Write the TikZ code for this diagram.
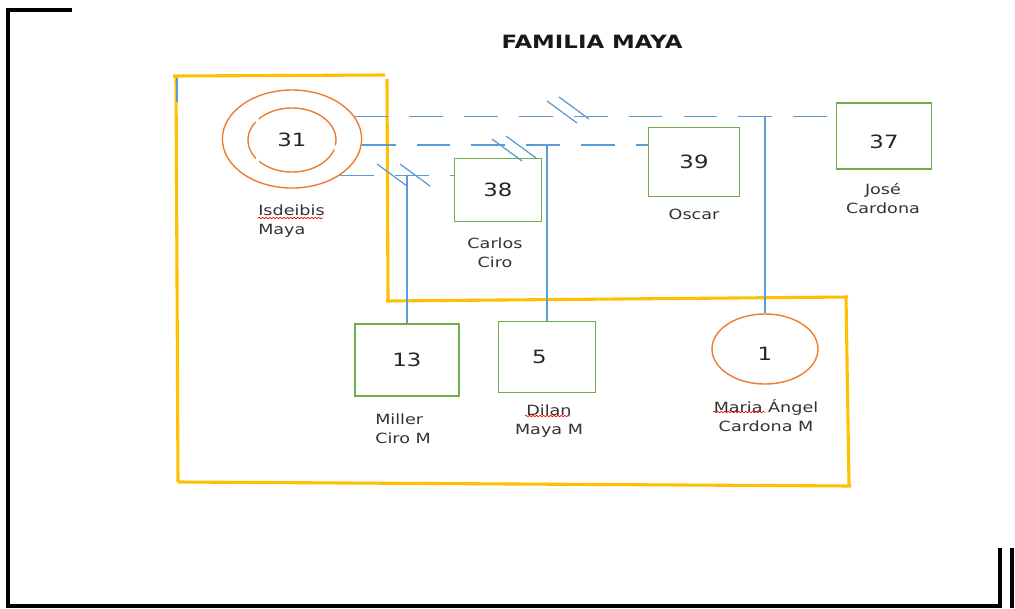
\documentclass[tikz,border=0pt]{standalone}
\usepackage{fontspec}
\setmainfont[FakeStretch=1.25]{DejaVu Sans}
\usetikzlibrary{shapes.geometric,decorations.pathmorphing}
\definecolor{oro}{RGB}{255,192,0}
\definecolor{azul}{RGB}{91,155,213}
\definecolor{verde}{RGB}{112,173,71}
\definecolor{naranja}{RGB}{237,125,49}
\newcommand\corte[2]{\draw[azul,line width=.9pt] (#1-15,#2-11)--(#1+15,#2+11);}
\newcommand\subraya[3]{\draw[red,line width=.5pt,decorate,decoration={snake,amplitude=.5pt,segment length=2.5pt}] (#1,#3)--(#2,#3);}
\tikzset{
varon/.style={draw=verde,line width=1.2pt,font=\fontsize{13}{15}\selectfont,text=black!85},
mujer/.style={draw=naranja,ellipse,line width=1pt,inner sep=0pt,font=\fontsize{13}{15}\selectfont,text=black!85},
nombre/.style={font=\fontsize{10}{13.5}\selectfont,text=black!80,inner sep=0pt},
union/.style={azul,line width=.9pt,dash pattern=on 24pt off 15pt},
hijo/.style={azul,line width=.9pt},
marco/.style={oro,line width=2.2pt}
}
\begin{document}
\begin{tikzpicture}[x=0.025cm,y=-0.025cm]
\useasboundingbox (0,0) rectangle (1015,608);
% marco negro
\draw[line width=2.2pt] (72,10)--(8,10)--(8,606)--(1000,606)--(1000,548);
\draw[line width=2.2pt] (1012,548)--(1012,608);
\node[font=\bfseries\fontsize{13}{15}\selectfont,text=black!90] at (592,42) {FAMILIA MAYA};
% hogar
\draw[marco] (173,76)--(385,75);
\draw[marco] (176,76)--(178,482);
\draw[marco] (387,79)--(388,301);
\draw[marco] (386,301)--(848,297);
\draw[marco] (846,296)--(849,485);
\draw[marco] (178,482)--(851,486);
\draw[azul,line width=1pt] (177,78)--(177,102);
% personas
\node[mujer,minimum width=3.48cm,minimum height=2.45cm] (c31) at (292,139) {};
\node[mujer,dash pattern=on 68pt off 3pt on 29pt off 3pt on 61pt off 3pt on 20pt off 0pt,
  minimum width=2.2cm,minimum height=1.6cm] (i31) at (292,140) {31};
\node[varon,minimum width=2.175cm,minimum height=1.575cm] (p38) at (498,190) {38};
\node[varon,minimum width=2.275cm,minimum height=1.725cm] (p39) at (694,162) {39};
\node[varon,text height=17.5pt,text depth=0pt,minimum width=2.375cm,minimum height=1.65cm] (p37) at (884,136) {37};
\node[varon,minimum width=2.6cm,minimum height=1.8cm] (p13) at (407,360) {13};
\node[varon,minimum width=2.425cm,minimum height=1.775cm] (p5) at (547,357) {5\kern11pt};
\node[mujer,text height=16.5pt,text depth=0pt,minimum width=2.65cm,minimum height=1.75cm] (c1) at (765,349) {1};
% nombres
\node[nombre,align=left,anchor=west] (n31) at (258,221) {Isdeibis\\Maya};
\node[nombre,align=center] (n38) at (495,253) {Carlos\\Ciro};
\node[nombre] (n39) at (694,214) {Oscar};
\node[nombre,align=center] (n37) at (883,198) {José\\Cardona};
\node[nombre,align=left,anchor=west] (n13) at (375,429) {Miller\\Ciro M};
\node[nombre,align=center] (n5) at (549,421) {Dilan\\Maya M};
\node[nombre,align=center] (n1) at (766,416) {Maria Ángel\\Cardona M};
\subraya{258}{323}{218}
\subraya{525}{570}{416}
\subraya{713}{765}{412}
% uniones
\draw[union] (c31.20)--(c31.20 -| p37.west);
\draw[union] (c31.-5)--(c31.-5 -| p39.west);
\draw[union] (c31.-37)--(c31.-37 -| p38.west);
\corte{562}{112}\corte{574}{108}
\corte{507}{150}\corte{521}{147}
\corte{392}{175}\corte{415}{175}
% hijos
\draw[hijo] (p13.north |- c31.-37)--(p13.north);
\draw[hijo] (p5.north |- c31.-5)--(p5.north);
\draw[hijo] (c1.north |- c31.20)--(c1.north);
\end{tikzpicture}
\end{document}
